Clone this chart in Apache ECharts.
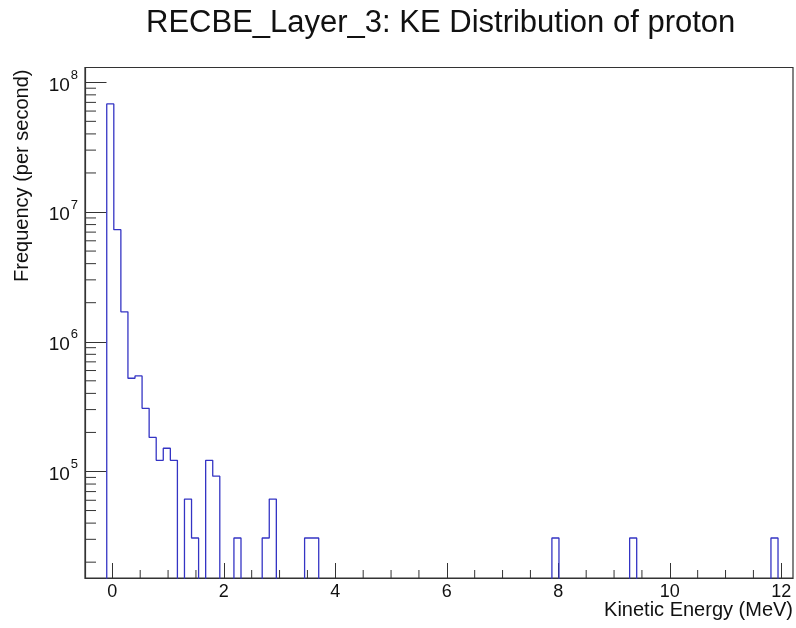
<!DOCTYPE html>
<html>
<head>
<meta charset="utf-8">
<script src="https://cdn.jsdelivr.net/npm/echarts@6/dist/echarts.min.js"></script>
<style>html,body{margin:0;padding:0;background:#fff;}#chart{width:796px;height:628px;}</style>
</head>
<body>
<div id="chart"></div>
<script>
// Histogram definition (kinetic energy bins, MeV)
const binStart = -0.1;
const binWidth = 0.12675;
// non-empty bins: index of bin and its frequency (per second)
const binIndex = [0, 1, 2, 3, 4, 5, 6, 7, 8, 9, 11, 12, 14, 15, 18, 22, 23, 28, 29, 63, 74, 94];
const binValue = [6.81e7, 7.31e6, 1.70e6, 5.23e5, 5.45e5, 3.07e5, 1.83e5, 1.22e5, 1.51e5, 1.22e5,
                  6.13e4, 3.07e4, 1.22e5, 9.2e4, 3.07e4, 3.07e4, 6.13e4, 3.07e4, 3.07e4, 3.07e4, 3.07e4, 3.07e4];
const nBins = 95;
// axis ranges and labels
const xMin = -0.49, xMax = 12.21;
const yMin = 1.51e4, yMax = 1.30e8;
const titleText = 'RECBE_Layer_3: KE Distribution of proton';
const xTitle = 'Kinetic Energy (MeV)';
const yTitle = 'Frequency (per second)';
const FONT = 'Liberation Sans';

// build full counts array and step outline
const counts = new Array(nBins).fill(0);
binIndex.forEach((b, i) => { counts[b] = binValue[i]; });
const floorVal = 1; // below axis min: drawn clipped (empty bins)
const outline = [];
const edge = k => +(binStart + k * binWidth).toFixed(5);
outline.push([edge(0), floorVal]);
for (let k = 0; k < nBins; k++) {
  const v = counts[k] > 0 ? counts[k] : floorVal;
  outline.push([edge(k), v]);
  outline.push([edge(k + 1), v]);
}
outline.push([edge(nBins), floorVal]);

// minor ticks (ROOT style)
const yMinorTicks = [];
for (let d = 4; d <= 7; d++) for (let m = 2; m <= 9; m++) {
  const v = m * Math.pow(10, d);
  if (v > yMin && v < yMax) yMinorTicks.push([xMin, v]);
}
const xMinorTicks = [];
for (let v = 0.5; v < xMax; v += 0.5) if (Math.abs(v / 2 - Math.round(v / 2)) > 1e-6) xMinorTicks.push([v, yMin]);

const chart = echarts.init(document.getElementById('chart'), null, {renderer: 'canvas'});
const axisColor = '#333';
chart.setOption({
  animation: false,
  backgroundColor: '#fff',
  title: {
    text: titleText, left: 146, top: 8, padding: 0,
    textStyle: {fontFamily: FONT, fontSize: 31, fontWeight: 'normal', color: '#111'}
  },
  grid: {left: 85, right: 3, top: 67.5, bottom: 50, show: true, borderColor: axisColor, borderWidth: 1.2,
         backgroundColor: 'transparent', containLabel: false, outerBoundsMode: 'none'},
  xAxis: {
    type: 'value', min: xMin, max: xMax, splitNumber: 6,
    name: xTitle, nameLocation: 'end', nameGap: 0, nameMoveOverlap: false,
    nameTextStyle: {fontFamily: FONT, fontSize: 20, color: '#111', align: 'right', verticalAlign: 'top', padding: [22, 0, 0, 0]},
    axisLine: {show: true, onZero: false, lineStyle: {color: axisColor, width: 1.2}},
    axisTick: {show: true, inside: true, length: 15, lineStyle: {color: axisColor, width: 1}},
    minorTick: {show: false},
    splitLine: {show: false},
    axisLabel: {fontFamily: FONT, fontSize: 18, color: '#111', margin: 5, showMinLabel: false, showMaxLabel: false}
  },
  yAxis: {
    type: 'log', logBase: 10, min: yMin, max: yMax,
    name: yTitle, nameLocation: 'middle', nameGap: 53, nameRotate: 90, nameMoveOverlap: false,
    nameTextStyle: {fontFamily: FONT, fontSize: 20, color: '#111', padding: [0, 0, 0, 294]},
    axisLine: {show: true, onZero: false, lineStyle: {color: axisColor, width: 1.2}},
    axisTick: {show: true, inside: true, length: 21.5, lineStyle: {color: axisColor, width: 1}},
    minorTick: {show: false},
    splitLine: {show: false},
    axisLabel: {
      margin: 7, showMinLabel: false, showMaxLabel: false,
      formatter: v => '{b|10}{s|' + Math.round(Math.log10(v)) + '}',
      rich: {
        b: {fontFamily: FONT, fontSize: 19, color: '#111', padding: [6, 0, 0, 0]},
        s: {fontFamily: FONT, fontSize: 13, color: '#111', padding: [0, 0, 14, 1]}
      }
    }
  },
  series: [
    {
      name: 'proton KE', type: 'line', data: outline, showSymbol: false, symbol: 'none', clip: true,
      lineStyle: {color: '#3434c4', width: 1.3}, silent: true
    },
    {
      type: 'custom', data: yMinorTicks, silent: true, clip: false,
      renderItem: (params, api) => {
        const p = api.coord([api.value(0), api.value(1)]);
        return {type: 'line', shape: {x1: p[0], y1: p[1], x2: p[0] + 11, y2: p[1]}, style: {stroke: axisColor, lineWidth: 1}};
      }
    },
    {
      type: 'custom', data: xMinorTicks, silent: true, clip: false,
      renderItem: (params, api) => {
        const p = api.coord([api.value(0), api.value(1)]);
        return {type: 'line', shape: {x1: p[0], y1: p[1], x2: p[0], y2: p[1] - 8}, style: {stroke: axisColor, lineWidth: 1}};
      }
    }
  ]
});
</script>
</body>
</html>
